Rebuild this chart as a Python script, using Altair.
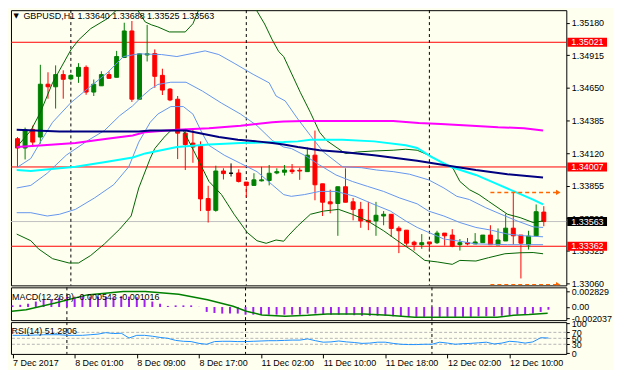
import altair as alt
import pandas as pd

FONT = "Liberation Sans"
BG = "#FFFFF0"

# ---------------- candles (GBPUSD H1, 7 Dec 17:00 .. 12 Dec 15:00) ----------------
opens = [1.34237, 1.34161, 1.34311, 1.34250, 1.34680, 1.34659, 1.34758, 1.34723, 1.34744, 1.34817,
         1.34616, 1.34667, 1.34758, 1.34736, 1.34897, 1.35113, 1.34558, 1.34918, 1.34929, 1.34752,
         1.34640, 1.34558, 1.34282, 1.34201, 1.34175, 1.33750, 1.33654, 1.33974, 1.33956, 1.33958,
         1.33884, 1.33857, 1.33894, 1.33897, 1.33958, 1.33964, 1.33982, 1.33980, 1.33969, 1.34103,
         1.33870, 1.33723, 1.33710, 1.33846, 1.33723, 1.33662, 1.33573, 1.33568, 1.33608, 1.33622,
         1.33509, 1.33493, 1.33395, 1.33375, 1.33397, 1.33391, 1.33469, 1.33453, 1.33375, 1.33391,
         1.33381, 1.33391, 1.33453, 1.33373, 1.33405, 1.33509, 1.33453, 1.33373, 1.33447, 1.33640]
highs = [1.34250, 1.34327, 1.34343, 1.34838, 1.34777, 1.34833, 1.34793, 1.34760, 1.34851, 1.34833,
         1.34718, 1.34785, 1.34785, 1.34951, 1.35180, 1.35194, 1.34930, 1.35162, 1.34963, 1.34806,
         1.34648, 1.34584, 1.34317, 1.34317, 1.34215, 1.33854, 1.34017, 1.33996, 1.34036, 1.33988,
         1.33884, 1.33956, 1.34009, 1.34023, 1.33996, 1.34023, 1.34031, 1.34001, 1.34165, 1.34303,
         1.33870, 1.33822, 1.33846, 1.33996, 1.33755, 1.33723, 1.33723, 1.33723, 1.33648, 1.33622,
         1.33525, 1.33493, 1.33407, 1.33461, 1.33397, 1.33488, 1.33469, 1.33501, 1.33421, 1.33429,
         1.33469, 1.33453, 1.33533, 1.33507, 1.33627, 1.33800, 1.33453, 1.33488, 1.33702, 1.33688]
lows = [1.34009, 1.34068, 1.34169, 1.34197, 1.34562, 1.34482, 1.34562, 1.34712, 1.34691, 1.34594,
        1.34584, 1.34667, 1.34723, 1.34736, 1.34897, 1.34536, 1.34552, 1.34865, 1.34651, 1.34592,
        1.34542, 1.34071, 1.33982, 1.34041, 1.33648, 1.33555, 1.33643, 1.33905, 1.33929, 1.33881,
        1.33760, 1.33857, 1.33889, 1.33857, 1.33948, 1.33937, 1.33950, 1.33902, 1.33969, 1.33736,
        1.33608, 1.33630, 1.33447, 1.33720, 1.33573, 1.33512, 1.33493, 1.33447, 1.33533, 1.33439,
        1.33306, 1.33367, 1.33327, 1.33341, 1.33322, 1.33381, 1.33367, 1.33354, 1.33327, 1.33370,
        1.33381, 1.33391, 1.33375, 1.33373, 1.33405, 1.33375, 1.33100, 1.33335, 1.33447, 1.33525]
closes = [1.34161, 1.34309, 1.34209, 1.34680, 1.34659, 1.34758, 1.34720, 1.34752, 1.34817, 1.34616,
          1.34680, 1.34758, 1.34728, 1.34905, 1.35113, 1.34558, 1.34927, 1.34927, 1.34744, 1.34632,
          1.34552, 1.34282, 1.34189, 1.34169, 1.33747, 1.33654, 1.33974, 1.33953, 1.33956, 1.33889,
          1.33857, 1.33902, 1.33902, 1.33956, 1.33969, 1.33982, 1.33969, 1.33974, 1.34103, 1.33862,
          1.33720, 1.33707, 1.33846, 1.33720, 1.33662, 1.33568, 1.33560, 1.33614, 1.33622, 1.33507,
          1.33488, 1.33387, 1.33375, 1.33391, 1.33381, 1.33469, 1.33447, 1.33362, 1.33391, 1.33381,
          1.33397, 1.33453, 1.33375, 1.33413, 1.33509, 1.33447, 1.33387, 1.33445, 1.33643, 1.33563]

# ---------------- indicator lines (bar position, price) ----------------
bb_upper_pos = [-0.1, 1.75, 3.0, 4.6, 7.0, 8.0, 9.6, 11.75, 13.4, 14.4, 15.5, 16.75, 17.6, 18.4, 19.9, 22.0,
                23.0, 23.9, 27.4, 31.1, 32.4, 33.4, 34.25, 34.9, 35.9, 37.1, 38.4, 39.6, 40.5, 41.75, 43.0,
                44.6, 46.75, 49.25, 50.9, 52.4, 53.9, 55.9, 57.1, 58.0, 59.25, 60.5, 61.75, 63.0, 64.25,
                65.9, 67.6, 68.9]
bb_upper_val = [1.34169, 1.34303, 1.34450, 1.34691, 1.34959, 1.35039, 1.35132, 1.35212, 1.35306, 1.35386,
                1.35306, 1.35186, 1.35162, 1.35146, 1.35105, 1.35105, 1.35172, 1.35306, 1.35506, 1.35306,
                1.35170, 1.35041, 1.34945, 1.34905, 1.34771, 1.34611, 1.34450, 1.34290, 1.34223, 1.34169,
                1.34116, 1.34129, 1.34137, 1.34143, 1.34151, 1.34143, 1.34103, 1.34036, 1.33996, 1.33889,
                1.33822, 1.33782, 1.33728, 1.33675, 1.33622, 1.33595, 1.33555, 1.33568]
bb_lower_pos = [-0.1, 1.75, 2.75, 4.6, 6.75, 8.0, 9.6, 11.4, 13.4, 14.9, 15.9, 17.4, 18.0, 19.25, 20.1,
                21.75, 23.4, 25.1, 26.75, 28.4, 30.1, 31.4, 32.6, 33.9, 34.9, 35.5, 36.75, 38.4, 40.1,
                42.1, 43.9, 45.9, 48.0, 50.1, 51.75, 53.4, 55.1, 57.0, 58.0, 60.1, 61.75, 63.9, 65.9,
                67.6, 68.9]
bb_lower_val = [1.33461, 1.33407, 1.33341, 1.33261, 1.33226, 1.33226, 1.33287, 1.33381, 1.33501, 1.33608,
                1.33836, 1.34076, 1.34157, 1.34250, 1.34303, 1.34303, 1.34103, 1.33889, 1.33782, 1.33622,
                1.33475, 1.33407, 1.33386, 1.33413, 1.33403, 1.33447, 1.33528, 1.33622, 1.33648, 1.33662,
                1.33622, 1.33568, 1.33488, 1.33395, 1.33327, 1.33247, 1.33234, 1.33215, 1.33247, 1.33242,
                1.33269, 1.33301, 1.33309, 1.33311, 1.33301]
blue_up_pos = [-0.1, 1.75, 3.0, 4.6, 7.0, 9.6, 11.75, 13.9, 15.9, 18.9, 20.9, 23.0, 24.6, 26.4, 28.4,
               30.9, 33.0, 33.9, 35.1, 36.75, 38.4, 40.1, 42.6, 45.1, 47.1, 49.25, 51.4, 53.9, 55.9,
               57.6, 59.25, 61.4, 63.4, 65.5, 67.6, 68.9]
blue_up_val = [1.34001, 1.34076, 1.34209, 1.34370, 1.34530, 1.34664, 1.34771, 1.34905, 1.34927, 1.34921,
               1.34905, 1.34931, 1.34951, 1.34921, 1.34851, 1.34760, 1.34691, 1.34584, 1.34544, 1.34397,
               1.34263, 1.34129, 1.34009, 1.34001, 1.33982, 1.33969, 1.33948, 1.33902, 1.33836, 1.33768,
               1.33742, 1.33675, 1.33622, 1.33568, 1.33520, 1.33515]
blue_mid_pos = [-0.1, 1.75, 3.9, 6.4, 9.25, 11.4, 13.4, 15.1, 16.4, 17.4, 18.4, 20.1, 22.1, 24.25, 26.75,
                29.25, 31.4, 33.4, 34.9, 35.9, 37.6, 39.6, 41.75, 43.9, 45.9, 48.0, 50.1, 52.4, 53.9,
                55.9, 58.0, 60.1, 62.1, 64.25, 66.4, 68.9]
blue_mid_val = [1.33836, 1.33857, 1.33956, 1.34103, 1.34223, 1.34303, 1.34424, 1.34504, 1.34584, 1.34638,
                1.34678, 1.34696, 1.34696, 1.34624, 1.34526, 1.34437, 1.34343, 1.34223, 1.34169, 1.34157,
                1.34103, 1.34023, 1.33942, 1.33889, 1.33849, 1.33808, 1.33755, 1.33707, 1.33648, 1.33608,
                1.33555, 1.33515, 1.33493, 1.33461, 1.33447, 1.33439]
blue_low_pos = [-0.1, 1.75, 3.9, 5.5, 7.6, 10.1, 12.6, 14.6, 15.9, 17.4, 18.4, 20.1, 21.75, 23.0, 24.25,
                25.1, 27.1, 29.25, 31.4, 33.4, 34.9, 35.9, 37.6, 39.6, 41.75, 44.25, 46.75, 48.9, 50.9,
                52.4, 53.9, 55.9, 58.0, 60.1, 64.25, 68.9]
blue_low_val = [1.33635, 1.33635, 1.33608, 1.33622, 1.33662, 1.33755, 1.33862, 1.34009, 1.34209, 1.34370,
                1.34437, 1.34498, 1.34498, 1.34437, 1.34277, 1.34183, 1.34103, 1.34036, 1.33969, 1.33862,
                1.33782, 1.33768, 1.33782, 1.33808, 1.33808, 1.33768, 1.33702, 1.33648, 1.33568, 1.33515,
                1.33475, 1.33421, 1.33403, 1.33381, 1.33375, 1.33375]
navy_pos = [-0.1, 5.5, 15.9, 17.4, 22.1, 24.25, 26.4, 28.9, 31.4, 33.4, 34.9, 36.75, 39.6, 42.6, 46.75,
            50.1, 52.4, 55.9, 60.1, 64.25, 68.9]
navy_val = [1.34309, 1.34295, 1.34295, 1.34303, 1.34303, 1.34277, 1.34250, 1.34229, 1.34215, 1.34201,
            1.34189, 1.34169, 1.34143, 1.34129, 1.34103, 1.34076, 1.34057, 1.34023, 1.33982, 1.33948,
            1.33921]
magenta_pos = [-0.1, 3.4, 7.6, 11.75, 15.1, 16.75, 20.9, 25.1, 29.25, 33.4, 34.9, 37.6, 49.25, 52.6, 55.5,
               59.6, 63.0, 66.4, 68.9]
magenta_val = [1.34169, 1.34183, 1.34201, 1.34237, 1.34263, 1.34290, 1.34309, 1.34322, 1.34343, 1.34370,
               1.34376, 1.34381, 1.34381, 1.34365, 1.34357, 1.34343, 1.34330, 1.34322, 1.34303]
cyan_pos = [-0.1, 1.75, 5.5, 7.6, 11.75, 15.1, 16.75, 20.9, 25.1, 29.25, 34.9, 36.75, 38.4, 42.6, 46.75,
            50.9, 52.4, 54.25, 56.75, 60.1, 62.6, 65.1, 67.6, 68.9]
cyan_val = [1.33982, 1.33974, 1.33996, 1.34009, 1.34049, 1.34084, 1.34117, 1.34169, 1.34189, 1.34201,
            1.34209, 1.34215, 1.34229, 1.34229, 1.34215, 1.34183, 1.34161, 1.34089, 1.34009, 1.33942,
            1.33876, 1.33808, 1.33742, 1.33702]

# ---------------- levels, labels ----------------
price_ticks = [1.35180, 1.34915, 1.34650, 1.34385, 1.34120, 1.33855, 1.33590, 1.33325, 1.33060]
red_levels = [1.35021, 1.34007, 1.33362]
bid_price = 1.33563
orange_levels = [1.33800, 1.33050]
orange_from, orange_to, orange_arrow = 62.0, 70.6, 70.9
day_separators = [7, 30, 54]
time_tick_pos = [0, 8, 16, 24, 32, 40, 48, 56, 64]
time_tick_text = ["7 Dec 2017", "8 Dec 01:00", "8 Dec 09:00", "8 Dec 17:00", "11 Dec 02:00",
                  "11 Dec 10:00", "11 Dec 18:00", "12 Dec 02:00", "12 Dec 10:00"]
title_text = "GBPUSD,H1  1.33640 1.33688 1.33525 1.33563"

# ---------------- MACD / RSI ----------------
macd_hist = [0.0003, 0.0004, 0.0006, 0.0010, 0.0013, 0.0014, 0.0017, 0.0019, 0.0019, 0.0020,
             0.0019, 0.0019, 0.0019, 0.0019, 0.0020, 0.0019, 0.0018, 0.0014, 0.0010, 0.0006,
             0.0002, 0.0003, 0.0003, 0.0003, 0.00003, -0.0009, -0.0011, -0.0012, -0.0012, -0.0012,
             -0.0014, -0.0014, -0.0014, -0.0014, -0.0014, -0.0014, -0.0014, -0.0014, -0.0012, -0.0012,
             -0.0014, -0.0014, -0.0014, -0.0014, -0.0015, -0.0016, -0.0016, -0.0016, -0.0016, -0.0017,
             -0.0017, -0.0018, -0.0018, -0.0018, -0.0018, -0.0018, -0.0018, -0.0018, -0.0018, -0.0018,
             -0.0017, -0.0017, -0.0017, -0.0016, -0.0015, -0.0014, -0.0014, -0.0012, -0.0009, -0.0005]
macd_sig_pos = [-0.1, 1.75, 5.5, 9.6, 14.25, 17.1, 21.4, 25.1, 28.4, 30.1, 32.1, 35.1, 38.0, 40.5, 45.25,
                48.4, 51.75, 62.4, 64.5, 66.5, 68.9]
macd_sig_val = [-0.00077, -0.00049, 0.00072, 0.00222, 0.00283, 0.00283, 0.00234, 0.00132, 0.00013,
                -0.00077, -0.00144, -0.00168, -0.00150, -0.00126, -0.00126, -0.00150, -0.00186, -0.00186,
                -0.00150, -0.00139, -0.00114]
macd_ticks = [0.002829, 0.0, -0.002037]
macd_text = "MACD(12,26,9) -0.000543 -0.001016"
rsi_vals = [60, 60, 60, 61, 62, 62, 62, 60, 60, 60, 62, 64, 69, 66, 67, 51, 60, 60, 57, 53,
            50, 43, 40, 39, 33, 30, 39, 40, 40, 39, 39, 40, 41, 42, 42, 43, 44, 44, 48, 42,
            37, 38, 41, 38, 36, 33, 34, 37, 37, 33, 30, 29, 29, 30, 30, 37, 34, 30, 32, 33,
            35, 37, 31, 34, 40, 38, 34, 38, 52, 51]
rsi_levels = [70, 50, 30]
rsi_ticks = [100, 70, 50, 30, 0]
rsi_text = "RSI(14) 51.2906"

# ---------------- layout (whole chart must stay within 605 x 363 px) ----------------
W = 559
H_MAIN, H_MACD, H_RSI = 277, 33, 32
xs = alt.Scale(domain=[-0.2, 71.3], nice=False, zero=False)
ys_main = alt.Scale(domain=[1.33044, 1.35282], nice=False, zero=False)
ys_macd = alt.Scale(domain=[-0.0024, 0.0036], nice=False, zero=False)
ys_rsi = alt.Scale(domain=[-2.3, 104.3], nice=False, zero=False)
BOX_HALF = 0.00036

common_axis = dict(title=None, grid=False, domain=False, tickSize=3, tickColor="black",
                   labelColor="black", labelFont=FONT, labelFontSize=9, labelPadding=2,
                   labelOverlap=False)
main_axis = alt.Axis(orient="right", values=price_ticks, format=".5f", **common_axis)
macd_axis = alt.Axis(orient="right", values=macd_ticks,
                     labelExpr="datum.value > 0.001 ? '0.002829' : (datum.value < -0.001 ? '-0.002037' : '0.00')",
                     **common_axis)
rsi_axis = alt.Axis(orient="right", values=rsi_ticks, format="d", **common_axis)
time_expr = "[" + ",".join("'" + t + "'" for t in time_tick_text) + "][round(datum.value / 8)]"
time_axis = alt.Axis(orient="bottom", values=time_tick_pos, title=None, grid=False, domain=False,
                     tickSize=4, tickColor="black", labelColor="black", labelFont=FONT,
                     labelFontSize=9, labelPadding=1, labelAlign="left", labelFlush=False,
                     labelOverlap=False, labelExpr=time_expr)


def xm(field):
    return alt.X(field, scale=xs, axis=None, title=None)


def ym(field):
    return alt.Y(field, scale=ys_main, axis=main_axis, title=None)


# ---------------- main panel ----------------
direction = ["up" if c > o else ("down" if c < o else "flat") for o, c in zip(opens, closes)]
candles = pd.DataFrame({"i": list(range(len(opens))), "o": opens, "h": highs, "l": lows,
                        "c": closes, "d": direction})
cscale = alt.Scale(domain=["up", "down", "flat"], range=["#008000", "#FF0000", "#000000"])

wicks = alt.Chart(candles).mark_rule(strokeWidth=1, clip=True).encode(
    x=xm("i:Q"), y=ym("l:Q"), y2="h:Q",
    color=alt.Color("d:N", scale=cscale, legend=None))
bodies = alt.Chart(candles).mark_bar(size=4, strokeWidth=1, clip=True).encode(
    x=xm("i:Q"), y=ym("o:Q"), y2="c:Q",
    color=alt.Color("d:N", scale=cscale, legend=None),
    stroke=alt.Stroke("d:N", scale=cscale, legend=None))


def line_layer(pos, val, color, width):
    df = pd.DataFrame({"i": pos, "p": val})
    return alt.Chart(df).mark_line(color=color, strokeWidth=width, clip=True).encode(
        x=xm("i:Q"), y=ym("p:Q"))


lines = [
    line_layer(bb_upper_pos, bb_upper_val, "#006400", 1),
    line_layer(bb_lower_pos, bb_lower_val, "#006400", 1),
    line_layer(blue_up_pos, blue_up_val, "#6495ED", 1),
    line_layer(blue_mid_pos, blue_mid_val, "#6495ED", 1),
    line_layer(blue_low_pos, blue_low_val, "#6495ED", 1),
    line_layer(magenta_pos, magenta_val, "#FF00FF", 2),
    line_layer(cyan_pos, cyan_val, "#00FFFF", 2),
    line_layer(navy_pos, navy_val, "#000080", 2),
]

sep_df = pd.DataFrame({"i": day_separators})
main_sep = alt.Chart(sep_df).mark_rule(color="black", strokeWidth=1, strokeDash=[3, 3]).encode(x=xm("i:Q"))

red_df = pd.DataFrame({"p": red_levels})
red_rules = alt.Chart(red_df).mark_rule(color="#FF0000", strokeWidth=1).encode(y=ym("p:Q"))
bid_rule = alt.Chart(pd.DataFrame({"p": [bid_price]})).mark_rule(color="#C0C0C0", strokeWidth=1).encode(y=ym("p:Q"))

orange_df = pd.DataFrame({"p": orange_levels, "a": [orange_from] * 2, "b": [orange_to] * 2,
                          "t": [orange_arrow] * 2})
orange_rules = alt.Chart(orange_df).mark_rule(color="#FF6600", strokeWidth=1.5, strokeDash=[4, 3], clip=True).encode(
    x=xm("a:Q"), x2="b:Q", y=ym("p:Q"))
orange_heads = alt.Chart(orange_df).mark_point(shape="triangle-right", filled=True, size=28,
                                               color="#FF6600", opacity=1, clip=True).encode(
    x=xm("t:Q"), y=ym("p:Q"))


def label_box(levels, fill):
    df = pd.DataFrame({"p": levels, "lab": ["%.5f" % v for v in levels]})
    df["lo"] = df["p"] - BOX_HALF
    df["hi"] = df["p"] + BOX_HALF
    rect = alt.Chart(df).mark_rect(color=fill).encode(
        x=alt.value(W + 1), x2=alt.value(W + 41), y=ym("lo:Q"), y2="hi:Q")
    txt = alt.Chart(df).mark_text(align="left", baseline="middle", color="white", font=FONT,
                                  fontSize=9).encode(x=alt.value(W + 5), y=ym("p:Q"), text="lab:N")
    return [rect, txt]


boxes = label_box(red_levels, "#FF0000") + label_box([bid_price], "#000000")

title_df = pd.DataFrame({"t": [title_text], "m": ["\u25BC"]})
title = alt.Chart(title_df).mark_text(align="left", baseline="middle", color="black", font=FONT,
                                      fontSize=9).encode(x=alt.value(12.5), y=alt.value(5.5), text="t:N")
tri = alt.Chart(title_df).mark_text(align="left", baseline="middle", color="black", font="DejaVu Sans",
                                    fontSize=7).encode(x=alt.value(2.5), y=alt.value(5.5), text="m:N")

main = alt.layer(red_rules, bid_rule, main_sep, wicks, bodies, *lines,
                 orange_rules, orange_heads, *boxes, title, tri).properties(width=W, height=H_MAIN)

# ---------------- MACD panel ----------------
macd_df = pd.DataFrame({"i": list(range(len(macd_hist))), "m": macd_hist, "z": [0.0] * len(macd_hist)})
sig_df = pd.DataFrame({"i": macd_sig_pos, "v": macd_sig_val})


def ymacd(field):
    return alt.Y(field, scale=ys_macd, axis=macd_axis, title=None)


hist = alt.Chart(macd_df).mark_rule(color="#A020F0", strokeWidth=2).encode(
    x=xm("i:Q"), y=ymacd("z:Q"), y2="m:Q")
sig = alt.Chart(sig_df).mark_line(color="#008000", strokeWidth=1.5).encode(x=xm("i:Q"), y=ymacd("v:Q"))
macd_sep = alt.Chart(sep_df).mark_rule(color="black", strokeWidth=1, strokeDash=[3, 3]).encode(x=xm("i:Q"))
macd_lab = alt.Chart(pd.DataFrame({"t": [macd_text]})).mark_text(
    align="left", baseline="middle", color="black", font=FONT, fontSize=9).encode(
    x=alt.value(1), y=alt.value(10), text="t:N")
macd = alt.layer(macd_sep, hist, sig, macd_lab).properties(width=W, height=H_MACD)


# ---------------- RSI panel ----------------
def xr(field):
    return alt.X(field, scale=xs, axis=time_axis, title=None)


def yr(field):
    return alt.Y(field, scale=ys_rsi, axis=rsi_axis, title=None)


rsi_df = pd.DataFrame({"i": list(range(len(rsi_vals))), "r": rsi_vals})
lvl = alt.Chart(pd.DataFrame({"v": rsi_levels})).mark_rule(color="#B4B4B4", strokeWidth=1,
                                                             strokeDash=[3, 2]).encode(y=yr("v:Q"))
rsi_line = alt.Chart(rsi_df).mark_line(color="#1E90FF", strokeWidth=1).encode(x=xr("i:Q"), y=yr("r:Q"))
rsi_sep = alt.Chart(sep_df).mark_rule(color="black", strokeWidth=1, strokeDash=[3, 3]).encode(x=xr("i:Q"))
rsi_lab = alt.Chart(pd.DataFrame({"t": [rsi_text]})).mark_text(
    align="left", baseline="middle", color="black", font=FONT, fontSize=9).encode(
    x=alt.value(0.5), y=alt.value(9), text="t:N")
rsi = alt.layer(lvl, rsi_sep, rsi_line, rsi_lab).properties(width=W, height=H_RSI)

chart = alt.vconcat(main, macd, rsi, spacing=2, bounds="flush", padding=0, background=BG).configure_view(
    stroke="black", strokeWidth=1).configure_axis(labelFont=FONT, labelFontSize=9)

chart.save("out.html", embed_options={"renderer": "svg", "actions": False})
